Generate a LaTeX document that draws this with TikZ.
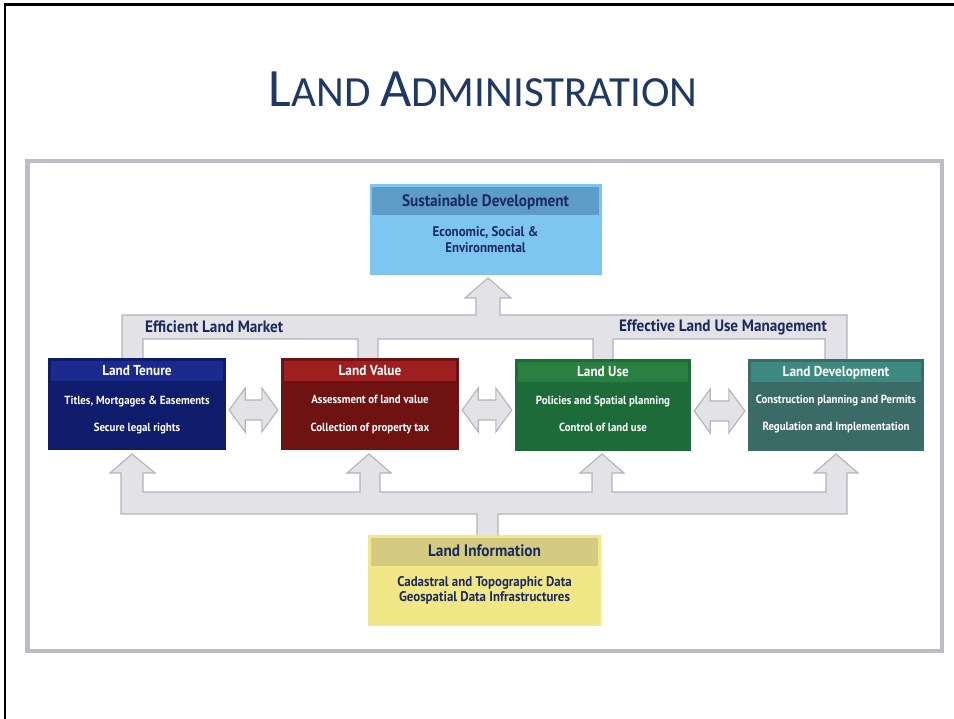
\documentclass[tikz,border=0pt]{standalone}
\usepackage{fontspec}
\setmainfont{Carlito}
\newfontfamily\condb[FakeStretch=0.92]{PT Sans Bold}
\usetikzlibrary{calc}
\definecolor{titleblue}{HTML}{1F3864}
\definecolor{navytext}{HTML}{1B2A5E}
\definecolor{framegray}{HTML}{BCBCC6}
\definecolor{treefill}{HTML}{E2E2E7}
\definecolor{treeline}{HTML}{B3B3BD}
\definecolor{sdbody}{HTML}{7EC6F2}
\definecolor{sdhead}{HTML}{5E9CC8}
\definecolor{libody}{HTML}{F2E786}
\definecolor{lihead}{HTML}{D4CB80}
\definecolor{ltbody}{HTML}{0F1B6B}
\definecolor{lthead}{HTML}{1B2A8C}
\definecolor{lvbody}{HTML}{6E1212}
\definecolor{lvhead}{HTML}{9E1F1F}
\definecolor{lubody}{HTML}{1E6B3A}
\definecolor{luhead}{HTML}{2A8040}
\definecolor{ldbody}{HTML}{3A6B66}
\definecolor{ldhead}{HTML}{3E8A80}
\newcommand\dblarr[2]{%
  \path[tree] let \p1=($(#1.east)+(3,6)$), \p2=($(#2.west)+(-3,6)$) in
   (\x1,\y1) -- (\x1+16pt,\y1+22pt) -- (\x1+16pt,\y1+10pt) -- (\x2-16pt,\y1+10pt)
   -- (\x2-16pt,\y1+22pt) -- (\x2,\y1) -- (\x2-16pt,\y1-22pt) -- (\x2-16pt,\y1-10pt)
   -- (\x1+16pt,\y1-10pt) -- (\x1+16pt,\y1-22pt) -- cycle;}
\begin{document}
\begin{tikzpicture}[x=1pt,y=-1pt,
  tree/.style={fill=treefill, draw=treeline, line width=1.1pt, line join=miter},
  box/.style={rectangle, inner sep=0pt, minimum width=178pt, minimum height=92pt},
  bigbox/.style={rectangle, inner sep=0pt, minimum width=232pt, minimum height=91pt},
  hd/.style={anchor=base, inner sep=0pt, font=\condb\fontsize{14.4}{16}\selectfont},
  ln/.style={anchor=base, inner sep=0pt, font=\condb\fontsize{11.8}{14}\selectfont},
  bighd/.style={anchor=base, inner sep=0pt, font=\condb\fontsize{16.6}{18}\selectfont},
  bigln/.style={anchor=base, inner sep=0pt, font=\condb\fontsize{14}{16}\selectfont},
  lbl/.style={inner sep=0pt, text=navytext, font=\condb\fontsize{16.5}{18}\selectfont}]
\useasboundingbox (0,0) rectangle (954,719);
\fill[white] (0,0) rectangle (954,719);
\draw[line width=2.7pt, black] (5,719) -- (5,4.3) -- (954,4.3);

% title
\node[anchor=base, inner sep=0pt, text=titleblue] (title) at (483,107)
  {\fontsize{54}{54}\selectfont L\fontsize{43}{43}\selectfont AND \fontsize{54}{54}\selectfont A\fontsize{43}{43}\selectfont DMINISTRATION};

% frame
\draw[framegray, line width=4.5pt] (27.5,161) rectangle (942,651);

% top tree
\path[tree] (122,362) -- (122,315) -- (476,315) -- (476,298) -- (465,298) -- (488,278)
  -- (511,298) -- (500,298) -- (500,315) -- (847,315) -- (847,362) -- (825,362)
  -- (825,339) -- (613,339) -- (613,362) -- (593,362) -- (593,339) -- (378,339)
  -- (378,362) -- (358,362) -- (358,339) -- (143,339) -- (143,362) -- cycle;

% bottom tree
\path[tree] (477,537) -- (477,514) -- (121,514) -- (121,473) -- (110,473) -- (132,454)
  -- (155,473) -- (143,473) -- (143,492) -- (360,492) -- (360,473) -- (347,473)
  -- (369,454) -- (391,473) -- (380,473) -- (380,492) -- (592,492) -- (592,473)
  -- (580,473) -- (602,454) -- (624,473) -- (612,473) -- (612,492) -- (826,492)
  -- (826,473) -- (814,473) -- (836,454) -- (858,473) -- (847,473) -- (847,514)
  -- (498,514) -- (498,537) -- cycle;

\node[lbl, anchor=base west] (elm) at (145,333) {Efficient Land Market};
\node[lbl, anchor=base east] (elum) at (827,332) {Effective Land Use Management};

% sustainable development
\node[bigbox, fill=sdbody] (sd) at (485.5,229.5) {};
\fill[sdhead] ($(sd.north west)+(3,3)$) rectangle ($(sd.north east)+(-3,31)$);
\node[bighd, text=navytext] (sdh) at ($(sd.north)+(0,23)$) {Sustainable Development};
\node[bigln, text=navytext] (sd1) at ($(sd.north)+(0,53)$) {Economic, Social \&};
\node[bigln, text=navytext] (sd2) at ($(sd.north)+(0,69)$) {Environmental};

% land information
\node[bigbox, fill=libody, minimum width=233pt] (li) at (484.5,580.5) {};
\fill[lihead] ($(li.north west)+(3,3)$) rectangle ($(li.north east)+(-3,31)$);
\node[bighd, text=navytext] (lih) at ($(li.north)+(0,22)$) {Land Information};
\node[bigln, text=navytext] (li1) at ($(li.north)+(0,52)$) {Cadastral and Topographic Data};
\node[bigln, text=navytext] (li2) at ($(li.north)+(0,67)$) {Geospatial Data Infrastructures};

% four boxes
\node[box, fill=ltbody] (lt) at (137,404) {};
\node[box, fill=lvbody] (lv) at (370,404) {};
\node[box, fill=lubody, minimum width=176pt] (lu) at (603,405) {};
\node[box, fill=ldbody, minimum width=176pt] (ld) at (836,405) {};
\fill[lthead] ($(lt.north west)+(3,3)$) rectangle ($(lt.north east)+(-3,23)$);
\fill[lvhead] ($(lv.north west)+(3,3)$) rectangle ($(lv.north east)+(-3,23)$);
\fill[luhead] ($(lu.north west)+(3,3)$) rectangle ($(lu.north east)+(-3,23)$);
\fill[ldhead] ($(ld.north west)+(3,3)$) rectangle ($(ld.north east)+(-3,23)$);

\node[hd, text=white] (lth) at ($(lt.north)+(0,18)$) {Land Tenure};
\node[ln, text=white] (lt1) at ($(lt.north)+(0,47)$) {Titles, Mortgages \& Easements};
\node[ln, text=white] (lt2) at ($(lt.north)+(0,74)$) {Secure legal rights};

\node[hd, text=white] (lvh) at ($(lv.north)+(0,18)$) {Land Value};
\node[ln, text=white] (lv1) at ($(lv.north)+(0,46)$) {Assessment of land value};
\node[ln, text=white] (lv2) at ($(lv.north)+(0,74)$) {Collection of property tax};

\node[hd, text=white] (luh) at ($(lu.north)+(0,18)$) {Land Use};
\node[ln, text=white] (lu1) at ($(lu.north)+(0,46)$) {Policies and Spatial planning};
\node[ln, text=white] (lu2) at ($(lu.north)+(0,73)$) {Control of land use};

\node[hd, text=white] (ldh) at ($(ld.north)+(0,18)$) {Land Development};
\node[ln, text=white] (ld1) at ($(ld.north)+(0,45)$) {Construction planning and Permits};
\node[ln, text=white] (ld2) at ($(ld.north)+(0,72)$) {Regulation and Implementation};

% double arrows
\dblarr{lt}{lv}
\dblarr{lv}{lu}
\dblarr{lu}{ld}
\end{tikzpicture}
\end{document}
